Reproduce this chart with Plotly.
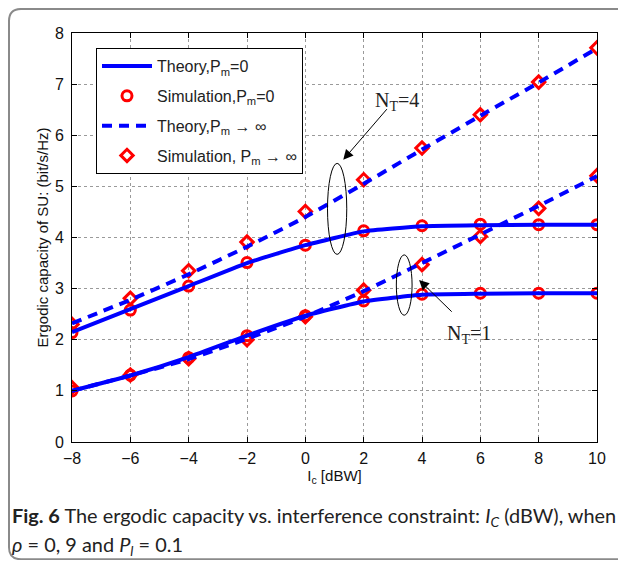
import plotly.graph_objects as go

# interference constraint I_c [dBW]
ic = [-8, -6, -4, -2, 0, 2, 4, 6, 8, 10]

# N_T = 4
theory_pm0_nt4 = [2.15, 2.60, 3.05, 3.50, 3.85, 4.12, 4.22, 4.24, 4.25, 4.25]
sim_pm0_nt4 = [2.14, 2.58, 3.05, 3.51, 3.85, 4.13, 4.23, 4.26, 4.25, 4.25]
theory_inf_nt4 = [2.32, 2.78, 3.28, 3.82, 4.40, 5.05, 5.72, 6.38, 7.03, 7.70]
sim_inf_nt4 = [2.30, 2.81, 3.35, 3.91, 4.51, 5.13, 5.75, 6.40, 7.04, 7.71]

# N_T = 1
theory_pm0_nt1 = [1.00, 1.30, 1.66, 2.08, 2.47, 2.75, 2.88, 2.90, 2.91, 2.91]
sim_pm0_nt1 = [1.00, 1.31, 1.65, 2.08, 2.47, 2.76, 2.89, 2.91, 2.91, 2.91]
theory_inf_nt1 = [1.00, 1.30, 1.62, 2.02, 2.45, 2.95, 3.50, 4.06, 4.62, 5.20]
sim_inf_nt1 = [1.06, 1.31, 1.63, 2.00, 2.45, 2.97, 3.47, 4.02, 4.57, 5.21]

x_ticks = [-8, -6, -4, -2, 0, 2, 4, 6, 8, 10]
y_ticks = [0, 1, 2, 3, 4, 5, 6, 7, 8]

BLUE = "#0000FF"
RED = "#FF0000"
AX_FONT = "Liberation Sans, Arial, sans-serif"
SERIF = "Liberation Serif, Times New Roman, serif"
CAP_FONT = "Lato, Open Sans, sans-serif"

fig = go.Figure()

# markers first so the theory curves sit on top of them (as in the original)
for i, y in enumerate([sim_pm0_nt4, sim_pm0_nt1]):
    fig.add_trace(go.Scatter(
        x=ic, y=y, mode="markers",
        marker=dict(symbol="circle-open", size=10, color=RED, line=dict(width=3, color=RED)),
        name="Simulation,P<sub>m</sub>=0", legendgroup="sim0", legendrank=2,
        showlegend=(i == 0),
    ))
for i, y in enumerate([sim_inf_nt4, sim_inf_nt1]):
    fig.add_trace(go.Scatter(
        x=ic, y=y, mode="markers",
        marker=dict(symbol="diamond-open", size=9.5, color=RED, line=dict(width=3, color=RED)),
        name="Simulation, P<sub>m</sub> → ∞", legendgroup="siminf", legendrank=4,
        showlegend=(i == 0),
    ))
for i, y in enumerate([theory_pm0_nt4, theory_pm0_nt1]):
    fig.add_trace(go.Scatter(
        x=ic, y=y, mode="lines", line=dict(color=BLUE, width=4, shape="spline", smoothing=0.4),
        name="Theory,P<sub>m</sub>=0", legendgroup="th0", legendrank=1,
        showlegend=(i == 0),
    ))
for i, y in enumerate([theory_inf_nt4, theory_inf_nt1]):
    fig.add_trace(go.Scatter(
        x=ic, y=y, mode="lines",
        line=dict(color=BLUE, width=4, dash="10px,7px", shape="spline", smoothing=0.4),
        name="Theory,P<sub>m</sub> → ∞", legendgroup="thinf", legendrank=3,
        showlegend=(i == 0),
    ))

# ellipses around the curve pairs
fig.add_shape(type="circle", xref="x", yref="y", x0=0.76, x1=1.42, y0=3.67, y1=5.45,
              line=dict(color="black", width=1))
fig.add_shape(type="circle", xref="x", yref="y", x0=3.12, x1=3.66, y0=2.48, y1=3.66,
              line=dict(color="black", width=1))

# arrows + labels
fig.add_annotation(x=1.30, y=5.52, ax=2.84, ay=6.54, axref="x", ayref="y", text="",
                   showarrow=True, arrowhead=2, arrowsize=2, arrowwidth=1, arrowcolor="black")
fig.add_annotation(x=3.15, y=6.66, text="N<sub>T</sub>=4", showarrow=False,
                   font=dict(family=SERIF, size=20, color="#222"))
fig.add_annotation(x=3.90, y=3.17, ax=5.07, ay=2.52, axref="x", ayref="y", text="",
                   showarrow=True, arrowhead=2, arrowsize=2, arrowwidth=1, arrowcolor="black")
fig.add_annotation(x=5.62, y=2.10, text="N<sub>T</sub>=1", showarrow=False,
                   font=dict(family=SERIF, size=20, color="#222"))

# caption, two lines placed separately for the wider line spacing
fig.add_annotation(
    xref="paper", yref="paper", x=-0.118, y=-0.181, xanchor="left", yanchor="middle", align="left",
    text="<b>Fig. 6</b> The ergodic capacity vs. interference constraint: <i>I<sub>C</sub></i> (dBW), when",
    showarrow=False, font=dict(family=CAP_FONT, size=19.9, color="#222"),
)
fig.add_annotation(
    xref="paper", yref="paper", x=-0.118, y=-0.254, xanchor="left", yanchor="middle", align="left",
    text="<i>ρ</i> = 0, 9 and <i>P<sub>l</sub></i> = 0.1",
    showarrow=False, font=dict(family=CAP_FONT, size=19.9, color="#222"),
)

# rounded outer frame (figure sits 8px into the page; right side runs off the edge)
x0, x1, y0, y1 = -0.1200, 1.12, -0.2866, 1.0587
rx, ry = 12 / 525, 12 / 409
fig.add_shape(
    type="path", xref="paper", yref="paper",
    path=(f"M {x0 + rx},{y1} L {x1 - rx},{y1} Q {x1},{y1} {x1},{y1 - ry} "
          f"L {x1},{y0 + ry} Q {x1},{y0} {x1 - rx},{y0} L {x0 + rx},{y0} "
          f"Q {x0},{y0} {x0},{y0 + ry} L {x0},{y1 - ry} Q {x0},{y1} {x0 + rx},{y1} Z"),
    line=dict(color="#8a8a8a", width=2),
)

axis_common = dict(
    showline=True, linecolor="black", linewidth=1, mirror="ticks",
    ticks="inside", ticklen=5, tickcolor="black",
    showgrid=True, gridcolor="#9a9a9a", griddash="dot", gridwidth=1,
    zeroline=False, tickfont=dict(family=AX_FONT, size=16, color="#111"),
)
fig.update_xaxes(range=[-8, 10], tickvals=x_ticks, ticklabelstandoff=2,
                 title=dict(text="I<sub>c</sub> [dBW]", font=dict(family=AX_FONT, size=15, color="#111"), standoff=3),
                 **axis_common)
fig.update_yaxes(range=[0, 8], tickvals=y_ticks, ticklabelstandoff=4,
                 title=dict(text="Ergodic capacity of SU: (bit/s/Hz)", font=dict(family=AX_FONT, size=15, color="#111"), standoff=2),
                 **axis_common)

fig.update_layout(
    width=610, height=552,
    margin=dict(l=64, r=21, t=25, b=118),
    paper_bgcolor="white", plot_bgcolor="white",
    legend=dict(
        x=0.0457, y=0.963, xanchor="left", yanchor="top",
        bordercolor="black", borderwidth=1, bgcolor="white",
        font=dict(family=AX_FONT, size=16, color="#222"),
        traceorder="grouped", tracegroupgap=6, itemwidth=50,
    ),
)

fig.write_html("out.html")
